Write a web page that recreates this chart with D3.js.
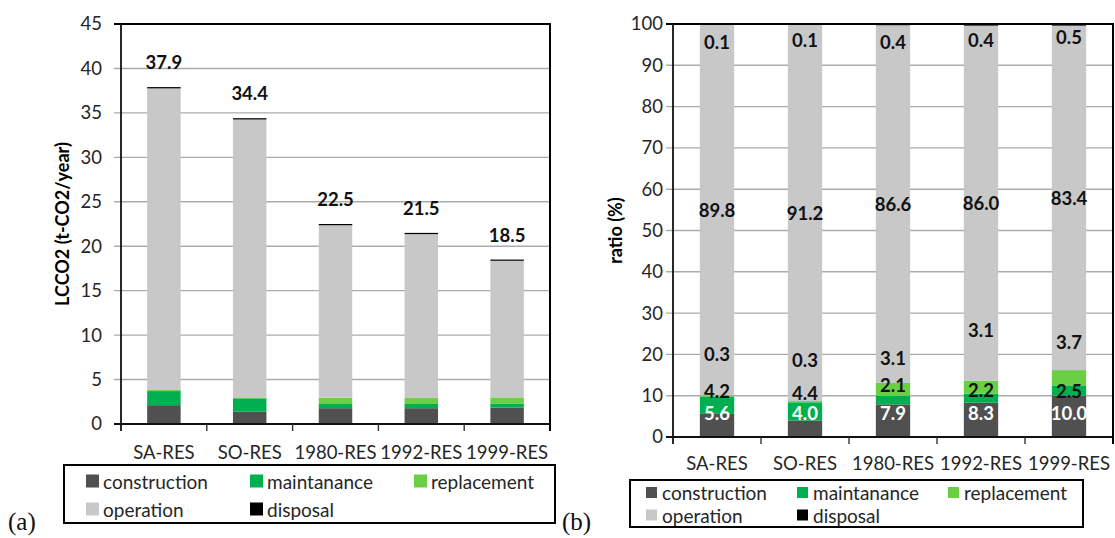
<!DOCTYPE html>
<html>
<head>
<meta charset="utf-8">
<script src="https://cdn.jsdelivr.net/npm/d3@7"></script>
<style>
  body { margin: 0; background: #fff; }
  svg text { font-family: Lato, "Open Sans", sans-serif; }
</style>
</head>
<body>
<svg id="chart" width="1115" height="538"></svg>
<script>
// Building types and life-cycle stages
const categories = ["SA-RES", "SO-RES", "1980-RES", "1992-RES", "1999-RES"];
const seriesNames = ["construction", "maintanance", "replacement", "operation", "disposal"];
const seriesColors = ["#505050", "#00B050", "#6ACF45", "#C8C8C8", "#000000"];

// (a) life-cycle CO2 per stage, t-CO2/year
const lcConstruction = [2.12, 1.38, 1.78, 1.78, 1.85];
const lcMaintenance  = [1.59, 1.51, 0.47, 0.47, 0.46];
const lcReplacement  = [0.11, 0.10, 0.70, 0.67, 0.68];
const lcOperation    = [34.04, 31.38, 19.46, 18.49, 15.42];
const lcDisposal     = [0.04, 0.03, 0.09, 0.09, 0.09];
const lcTotals       = [37.9, 34.4, 22.5, 21.5, 18.5];
const lcTicks        = [0, 5, 10, 15, 20, 25, 30, 35, 40, 45];

// (b) share of each stage, %
const rConstruction = [5.6, 4.0, 7.9, 8.3, 10.0];
const rMaintenance  = [4.2, 4.4, 2.1, 2.2, 2.5];
const rReplacement  = [0.3, 0.3, 3.1, 3.1, 3.7];
const rOperation    = [89.8, 91.2, 86.6, 86.0, 83.4];
const rDisposal     = [0.1, 0.1, 0.4, 0.4, 0.5];
const ratioTicks    = [0, 10, 20, 30, 40, 50, 60, 70, 80, 90, 100];

// level (on the % axis) where the small-segment labels are set, so they do not collide
const ratioLabelLevel = {
  construction: [5.8, 5.8, 5.8, 5.8, 5.8],
  maintanance:  [11.2, 10.6, 12.6, 11.4, 11.2],
  replacement:  [20.2, 18.6, 19.2, 25.9, 22.9],
  disposal:     [95.6, 96.1, 95.6, 96.1, 96.9]
};

const svg = d3.select("#chart");
const TEXT = "#262626";

function panel(opt) {
  const g = svg.append("g");
  const x = d3.scaleBand().domain(categories)
    .range([opt.left, opt.right]).paddingInner(0.61).paddingOuter(0.305);
  const y = d3.scaleLinear().domain([0, opt.max]).range([opt.bottom, opt.top]);
  const step = x.step();

  // horizontal gridlines (with their tick stubs)
  g.append("g").selectAll("line")
    .data(opt.ticks.filter(t => t > 0 && t < opt.max)).join("line")
    .attr("x1", opt.left - 7).attr("x2", opt.right)
    .attr("y1", d => y(d)).attr("y2", d => y(d))
    .attr("stroke", "#ABABAB").attr("stroke-width", 1.4);

  // stacked columns
  const rows = categories.map((c, i) => {
    const r = { category: c };
    opt.series.forEach((s, k) => { r[seriesNames[k]] = s[i]; });
    return r;
  });
  const stacked = d3.stack().keys(seriesNames)(rows);
  const clipId = "clip" + opt.id;
  g.append("clipPath").attr("id", clipId).append("rect")
    .attr("x", opt.left).attr("y", opt.top)
    .attr("width", opt.right - opt.left).attr("height", opt.bottom - opt.top);
  g.append("g").attr("clip-path", `url(#${clipId})`)
    .selectAll("g").data(stacked).join("g")
    .attr("fill", (d, i) => seriesColors[i])
    .selectAll("rect").data(d => d).join("rect")
    .attr("x", d => x(d.data.category))
    .attr("width", x.bandwidth())
    .attr("y", d => y(d[1]))
    .attr("height", d => Math.max(y(d[0]) - y(d[1]), opt.minH));

  // plot frame: top and right edges
  g.append("line").attr("x1", opt.left - 7).attr("x2", opt.right + 1)
    .attr("y1", opt.top).attr("y2", opt.top)
    .attr("stroke", "#000").attr("stroke-width", 2);
  g.append("line").attr("x1", opt.right).attr("x2", opt.right)
    .attr("y1", opt.top).attr("y2", opt.bottom + 7)
    .attr("stroke", "#000").attr("stroke-width", 2);
  // value axis line and category axis line
  g.append("line").attr("x1", opt.left).attr("x2", opt.left)
    .attr("y1", opt.top).attr("y2", opt.bottom + 7)
    .attr("stroke", "#111").attr("stroke-width", 1.8);
  g.append("line").attr("x1", opt.left - 7).attr("x2", opt.right)
    .attr("y1", opt.bottom).attr("y2", opt.bottom)
    .attr("stroke", "#111").attr("stroke-width", 1.8);
  // category boundary ticks
  g.append("g").selectAll("line").data(d3.range(1, categories.length)).join("line")
    .attr("x1", i => opt.left + i * step).attr("x2", i => opt.left + i * step)
    .attr("y1", opt.bottom).attr("y2", opt.bottom + 7)
    .attr("stroke", "#333").attr("stroke-width", 1.4);

  // value axis labels
  const ay = g.append("g").attr("transform", `translate(${opt.left},0)`)
    .call(d3.axisLeft(y).tickValues(opt.ticks).tickSize(0).tickPadding(opt.tickPad));
  ay.select(".domain").remove();
  ay.selectAll("text").attr("font-size", 18.5).attr("fill", TEXT)
    .style("font-family", "Lato, 'Open Sans', sans-serif");

  // category labels
  g.append("g").selectAll("text").data(categories).join("text")
    .attr("x", d => x(d) + x.bandwidth() / 2).attr("y", opt.catY)
    .attr("text-anchor", "middle").attr("dominant-baseline", "central")
    .attr("font-size", 18.5).attr("fill", TEXT).text(d => d);

  // axis title
  g.append("text")
    .attr("transform", `translate(${opt.titleX},${(opt.top + opt.bottom) / 2}) rotate(-90)`)
    .attr("text-anchor", "middle").attr("dominant-baseline", "central")
    .attr("font-size", 18).attr("font-weight", "bold").attr("fill", "#000")
    .text(opt.title);

  // legend
  const L = opt.legend;
  g.append("rect").attr("x", L.x).attr("y", L.y).attr("width", L.w).attr("height", L.h)
    .attr("fill", "#fff").attr("stroke", "#000").attr("stroke-width", 2);
  const items = g.append("g").selectAll("g").data(seriesNames).join("g")
    .attr("transform", (d, i) => `translate(${L.cols[i % 3]},${L.rows[Math.floor(i / 3)]})`);
  items.append("rect").attr("x", 0).attr("y", -L.sw / 2)
    .attr("width", L.sw).attr("height", L.sw)
    .attr("fill", (d, i) => seriesColors[i]);
  items.append("text").attr("x", L.gap).attr("y", 0)
    .attr("dominant-baseline", "central").attr("font-size", 19).attr("fill", TEXT)
    .text(d => d);

  // panel tag
  g.append("text").attr("x", opt.tagX).attr("y", 521)
    .attr("dominant-baseline", "central")
    .style("font-family", "'Liberation Serif', 'DejaVu Serif', serif")
    .attr("font-size", 25).attr("fill", "#111").text(opt.tag);

  return { g, x, y, stacked };
}

// (a) absolute values
const a = panel({
  id: "a", left: 121, right: 550, top: 24, bottom: 424, max: 45, minH: 1.2,
  ticks: lcTicks, tickPad: 19, catY: 452, titleX: 62,
  title: "LCCO2 (t-CO2/year)",
  series: [lcConstruction, lcMaintenance, lcReplacement, lcOperation, lcDisposal],
  legend: { x: 64, y: 465, w: 491, h: 58, cols: [86, 250, 414], rows: [481, 509], sw: 13, gap: 17 },
  tag: "(a)", tagX: 8
});
a.g.append("g").selectAll("text").data(categories).join("text")
  .attr("x", d => a.x(d) + a.x.bandwidth() / 2)
  .attr("y", (d, i) => a.y(lcTotals[i]) - 18)
  .attr("text-anchor", "middle")
  .attr("font-size", 18.5).attr("font-weight", "bold").attr("fill", "#111")
  .text((d, i) => lcTotals[i].toFixed(1));

// (b) shares
const bSeries = [rConstruction, rMaintenance, rReplacement, rOperation, rDisposal];
const b = panel({
  id: "b", left: 673, right: 1113, top: 24, bottom: 437, max: 100, minH: 0,
  ticks: ratioTicks, tickPad: 10, catY: 463, titleX: 615,
  title: "ratio (%)",
  series: bSeries,
  legend: { x: 630, y: 480, w: 453, h: 47, cols: [646, 797, 948], rows: [492.5, 515], sw: 11, gap: 16 },
  tag: "(b)", tagX: 562
});
const bLabels = [];
seriesNames.forEach((name, k) => {
  categories.forEach((c, i) => {
    const seg = b.stacked[k][i];
    const level = ratioLabelLevel[name] ? ratioLabelLevel[name][i] : (seg[0] + seg[1]) / 2;
    bLabels.push({ c, level, value: bSeries[k][i], white: k === 0 });
  });
});
b.g.append("g").selectAll("text").data(bLabels).join("text")
  .attr("x", d => b.x(d.c) + b.x.bandwidth() / 2)
  .attr("y", d => b.y(d.level))
  .attr("text-anchor", "middle").attr("dominant-baseline", "central")
  .attr("font-size", 18.5).attr("font-weight", "bold")
  .attr("fill", d => d.white ? "#fff" : "#111")
  .text(d => d.value.toFixed(1));
</script>
</body>
</html>
